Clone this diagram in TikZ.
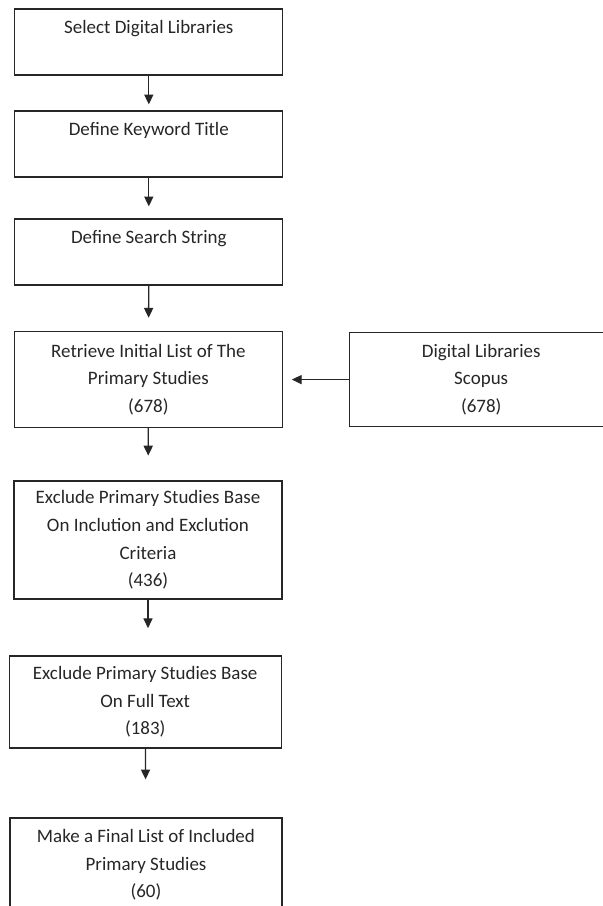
\documentclass[tikz,border=0pt]{standalone}
\usepackage{fontspec}
\setmainfont{Carlito}
\usepackage{tikz}
\usetikzlibrary{arrows,arrows.meta}

\begin{document}
\begin{tikzpicture}[>={Triangle[length=7pt,width=6.5pt]},line width=0.9pt,color=black!85,
	oneline/.style={inner sep=0pt,text height=0.625cm,text depth=1.025cm},
	every node/.style={draw,rectangle,align=center,minimum width=6.7cm,font=\fontsize{13.5}{19.6}\selectfont}]
	\useasboundingbox (0,0) rectangle (15.075,22.65);
	\clip (0,0) rectangle (15.075,22.65);
	\node[oneline] (n1) at (3.72,21.6)  {Select Digital Libraries};
	\node[oneline] (n2) at (3.72,19.05)  {Define Keyword Title};
	\node[oneline] (n3) at (3.72,16.35)  {Define Search String};
	\node[minimum height=2.4cm] (n4) at (3.71,13.16)  {Retrieve Initial List of The\\Primary Studies\\(678)};
	\node[minimum height=2.35cm,minimum width=6.6cm] (n5) at (12.03,13.16)  {Digital Libraries\\Scopus\\(678)};
	\node[minimum height=2.95cm] (n6) at (3.70,9.15)  {Exclude Primary Studies Base\\On Inclution and Exclution\\Criteria\\(436)};
	\node[minimum height=2.3cm,minimum width=6.8cm] (n7) at (3.63,5.1)  {Exclude Primary Studies Base\\On Full Text\\(183)};
	\node[minimum height=2.35cm,minimum width=6.8cm] (n8) at (3.65,1.025)  {Make a Final List of Included\\Primary Studies\\(60)};
	
	\draw[->,shorten >=0.15cm] (n1) -- (n2);
	\draw[->,shorten >=0.3cm] (n2) -- (n3);
	\draw[->,shorten >=0.33cm] (n3) -- (n4);
	\draw[->,shorten >=0.62cm] (n4) -- (n6);
	\draw[->,shorten >=0.68cm] (n6.south) -- (n6.south |- n7.north);
	\draw[->,shorten >=0.95cm] (n7) -- (n8);
	\draw[->,shorten >=0.22cm] (n5) -- (n4);
	
\end{tikzpicture}
\end{document}
